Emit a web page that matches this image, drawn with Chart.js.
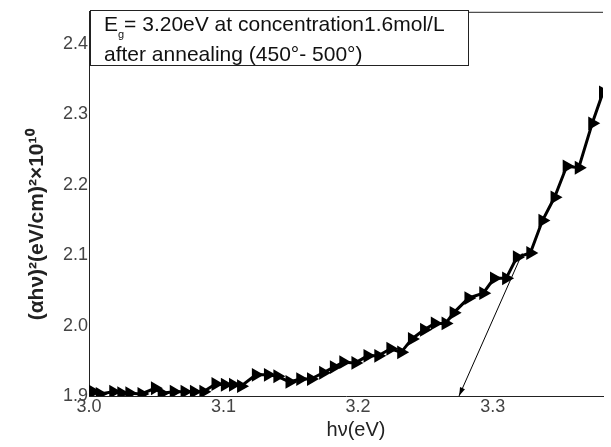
<!DOCTYPE html>
<html>
  <head>
    <title>Tauc plot</title>
    <script src="https://cdn.jsdelivr.net/npm/chart.js"></script>
    <style>
      body,
      html {
        margin: 0;
        width: 611px;
        height: 447px;
        overflow: hidden;
        background-color: white;
      }
      div {
        width: 611px;
        height: 447px;
      }
    </style>
  </head>
  <body>
    <div>
      <canvas id="chartCanvas"></canvas>
    </div>
    <script>
      // photon energy hv (eV)
      const energy = [
        3.003, 3.008, 3.018, 3.024, 3.030, 3.039, 3.049, 3.054, 3.063, 3.071,
        3.078, 3.085, 3.094, 3.101, 3.107, 3.113, 3.124, 3.133, 3.140, 3.149,
        3.157, 3.165, 3.174, 3.182, 3.189, 3.198, 3.207, 3.215, 3.224, 3.232,
        3.240, 3.249, 3.257, 3.265, 3.271, 3.282, 3.293, 3.301, 3.310, 3.318,
        3.328, 3.337, 3.346, 3.355, 3.364, 3.374, 3.382,
      ];
      // (alpha h v)^2  x 10^10
      const absorb = [
        1.906, 1.903, 1.906, 1.904, 1.904, 1.903, 1.911, 1.904, 1.906, 1.906,
        1.906, 1.906, 1.917, 1.916, 1.916, 1.914, 1.930, 1.930, 1.928, 1.920,
        1.924, 1.924, 1.933, 1.941, 1.948, 1.947, 1.957, 1.957, 1.967, 1.962,
        1.981, 1.994, 2.003, 2.003, 2.018, 2.039, 2.046, 2.067, 2.067, 2.097,
        2.103, 2.149, 2.182, 2.226, 2.224, 2.287, 2.331,
      ];

      const xTicks = [3.0, 3.1, 3.2, 3.3];
      const yTicks = [1.9, 2.0, 2.1, 2.2, 2.3, 2.4];

      // tangent line drawn to the x axis
      const arrowFrom = [3.322, 2.1025];
      const arrowTo = [3.275, 1.9];

      const noteLine1 = ["E", "g", "= 3.20eV at concentration1.6mol/L"];
      const noteLine2 = "after annealing (450°- 500°)";

      const fontName = "'Liberation Sans', Arial, sans-serif";

      const extras = {
        id: "extras",
        afterDatasetsDraw(chart) {
          const { ctx, chartArea, scales } = chart;
          const x = scales.x;
          const y = scales.y;
          ctx.save();

          // top frame line
          ctx.strokeStyle = "#222";
          ctx.lineWidth = 1;
          ctx.beginPath();
          ctx.moveTo(chartArea.left, chartArea.top + 0.5);
          ctx.lineTo(chartArea.right, chartArea.top + 0.5);
          ctx.stroke();

          // arrow
          const x1 = x.getPixelForValue(arrowFrom[0]);
          const y1 = y.getPixelForValue(arrowFrom[1]);
          const x2 = x.getPixelForValue(arrowTo[0]);
          const y2 = y.getPixelForValue(arrowTo[1]);
          ctx.strokeStyle = "#000";
          ctx.fillStyle = "#000";
          ctx.beginPath();
          ctx.moveTo(x1, y1);
          ctx.lineTo(x2, y2);
          ctx.stroke();
          const ang = Math.atan2(y2 - y1, x2 - x1);
          const len = 9;
          ctx.beginPath();
          ctx.moveTo(x2, y2);
          ctx.lineTo(x2 - len * Math.cos(ang - 0.3), y2 - len * Math.sin(ang - 0.3));
          ctx.lineTo(x2 - len * Math.cos(ang + 0.3), y2 - len * Math.sin(ang + 0.3));
          ctx.closePath();
          ctx.fill();

          // note box
          ctx.fillStyle = "white";
          ctx.fillRect(90, 10, 378, 55);
          ctx.strokeStyle = "#222";
          ctx.strokeRect(90.5, 10.5, 378, 55);
          ctx.fillStyle = "#111";
          ctx.textBaseline = "alphabetic";
          ctx.font = "21px " + fontName;
          ctx.fillText(noteLine1[0], 104, 31);
          let w = ctx.measureText(noteLine1[0]).width;
          ctx.font = "11px " + fontName;
          ctx.fillText(noteLine1[1], 104 + w, 38);
          w += ctx.measureText(noteLine1[1]).width;
          ctx.font = "21px " + fontName;
          ctx.fillText(noteLine1[2], 104 + w, 31);
          ctx.fillText(noteLine2, 104, 61);

          ctx.restore();
        },
      };

      var ctx = document.getElementById("chartCanvas");

      var chart = new Chart(ctx, {
        type: "line",
        data: {
          datasets: [
            {
              label: "Eg",
              data: energy.map((e, i) => ({ x: e, y: absorb[i] })),
              borderColor: "#000",
              backgroundColor: "#000",
              borderWidth: 3,
              pointStyle: "triangle",
              rotation: 90,
              pointRadius: 8,
              pointBorderWidth: 0,
              fill: false,
              tension: 0,
            },
          ],
        },
        options: {
          responsive: true,
          maintainAspectRatio: false,
          animation: false,
          layout: { padding: { top: 11, left: 0, right: 0, bottom: 0 } },
          scales: {
            x: {
              type: "linear",
              min: 3.0,
              max: 3.382,
              afterFit: (s) => {
                s.height = 51;
              },
              afterBuildTicks: (s) => {
                s.ticks = xTicks.map((v) => ({ value: v }));
              },
              grid: { display: false, drawTicks: false },
              border: { display: true, color: "#222", width: 1 },
              ticks: {
                color: "#444",
                padding: 0,
                font: { family: fontName, size: 18 },
                callback: (v) => v.toFixed(1),
              },
              title: {
                display: true,
                text: "\u2002\u2002hν(eV)",
                color: "#222",
                font: { family: fontName, size: 20 },
                padding: { top: 0, bottom: 5 },
              },
            },
            y: {
              type: "linear",
              min: 1.9,
              max: 2.4453,
              afterFit: (s) => {
                s.width = 89;
              },
              afterBuildTicks: (s) => {
                s.ticks = yTicks.map((v) => ({ value: v }));
              },
              grid: { display: false, drawTicks: false },
              border: { display: true, color: "#222", width: 1 },
              ticks: {
                color: "#444",
                padding: 1,
                font: { family: fontName, size: 18 },
                callback: (v) => v.toFixed(1),
              },
              title: {
                display: true,
                text: "(αhν)²(eV/cm)²×10¹⁰\u2002\u2002\u2002\u2002",
                color: "#222",
                font: { family: fontName, size: 21, weight: "bold" },
                padding: { top: 25, bottom: 0 },
              },
            },
          },
          plugins: {
            legend: { display: false },
            tooltip: { enabled: false },
          },
        },
        plugins: [extras],
      });
    </script>
  </body>
</html>
